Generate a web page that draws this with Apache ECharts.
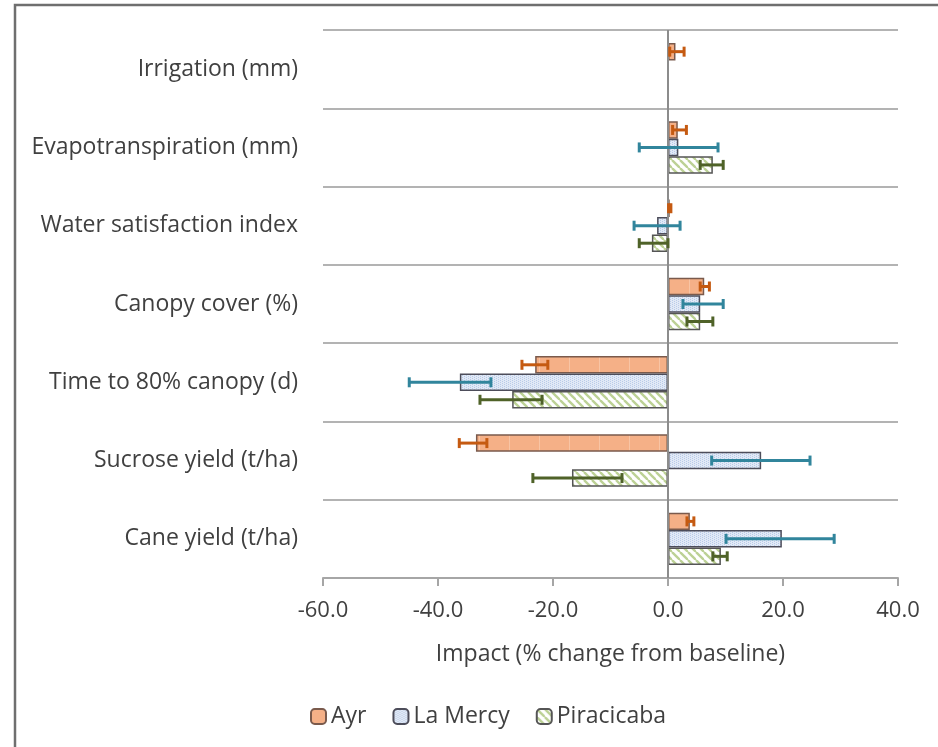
<!DOCTYPE html>
<html><head><meta charset="utf-8">
<script src="https://cdn.jsdelivr.net/npm/echarts@6/dist/echarts.min.js"></script>
<style>html,body{margin:0;padding:0;background:#fff}#c{width:938px;height:747px}</style>
</head><body><div id="c"></div>
<script>
const categories = ['Irrigation (mm)', 'Evapotranspiration (mm)', 'Water satisfaction index', 'Canopy cover (%)', 'Time to 80% canopy (d)', 'Sucrose yield (t/ha)', 'Cane yield (t/ha)'];
const xTicks = [-60, -40, -20, 0, 20, 40];
const ayr = [1.3, 1.7, 0.3, 6.3, -23.1, -33.4, 3.8];
const ayrLow = [0.3, 0.8, 0.1, 5.6, -25.4, -36.3, 3.3];
const ayrHigh = [2.8, 3.2, 0.5, 7.2, -20.9, -31.5, 4.5];
const laMercy = [null, 1.8, -1.9, 5.6, -36.2, 16.2, 19.8];
const laMercyLow = [null, -5.0, -5.9, 2.6, -45.0, 7.6, 10.1];
const laMercyHigh = [null, 8.7, 2.1, 9.6, -30.8, 24.7, 28.9];
const pira = [null, 7.8, -2.8, 5.6, -27.1, -16.7, 9.2];
const piraLow = [null, 5.6, -5.0, 3.3, -32.7, -23.5, 7.8];
const piraHigh = [null, 9.6, 0.0, 7.8, -21.9, -8.0, 10.3];

function makePattern(w, h, draw) {
  const c = document.createElement('canvas'); c.width = w; c.height = h;
  const g = c.getContext('2d'); draw(g, w, h); return c;
}
const ayrPat = makePattern(30, 4, (g, w, h) => { g.fillStyle = '#f5b087'; g.fillRect(0, 0, w, h); g.fillStyle = '#f8c4a4'; g.fillRect(29, 0, 1, h); });
const lmPat = makePattern(4, 4, (g, w, h) => { g.fillStyle = '#e1e9f6'; g.fillRect(0, 0, w, h); g.fillStyle = '#b9cbe9'; g.fillRect(0, 0, 1, 1); g.fillRect(0, 2, 1, 1); g.fillRect(2,1,1,1); g.fillRect(2,3,1,1);});
const piPat = makePattern(8, 8, (g, w, h) => {
  g.fillStyle = '#ffffff'; g.fillRect(0, 0, w, h);
  g.strokeStyle = '#bcd195'; g.lineWidth = 2.4;
  for (let k = -8; k <= 16; k += 8) { g.beginPath(); g.moveTo(k, 0); g.lineTo(k + 8, 8); g.stroke(); }
});

const GAP = 0.33;
function errSeries(name, low, high, idx, color) {
  const data = [];
  low.forEach((v, i) => { if (v !== null) data.push([v, high[i], i]); });
  return {
    type: 'custom', name: name + ' err', data: data, z: 5, silent: true,
    encode: { x: [0, 1], y: 2 },
    renderItem: function (params, api) {
      const cat = api.value(2);
      const p1 = api.coord([api.value(0), cat]);
      const p2 = api.coord([api.value(1), cat]);
      const band = Math.abs(api.size([0, 1])[1]);
      const bw = band * (1 - GAP) / 3;
      const y = p1[1] + (idx - 1) * bw;
      const cap = 5;
      const st = { stroke: color, lineWidth: 3 };
      return { type: 'group', children: [
        { type: 'line', shape: { x1: p1[0], y1: y, x2: p2[0], y2: y }, style: st },
        { type: 'line', shape: { x1: p1[0], y1: y - cap, x2: p1[0], y2: y + cap }, style: st },
        { type: 'line', shape: { x1: p2[0], y1: y - cap, x2: p2[0], y2: y + cap }, style: st }
      ]};
    }
  };
}

const font = 'Open Sans';
const chart = echarts.init(document.getElementById('c'));
chart.setOption({
  animation: false,
  backgroundColor: '#fff',
  textStyle: { fontFamily: font },
  graphic: [{ type: 'rect', shape: { x: 15, y: 5, width: 1000, height: 900 }, style: { fill: 'none', stroke: '#6f6f6f', lineWidth: 2.5 }, silent: true }],
  grid: { left: 323, right: 40, top: 30, bottom: 169 },
  legend: {
    left: 305, top: 700, itemWidth: 15, itemHeight: 15, itemGap: 26,
    data: ['Ayr', 'La Mercy', 'Piracicaba'],
    textStyle: { fontFamily: font, fontSize: 23, color: '#404040' }
  },
  xAxis: {
    type: 'value', min: -60, max: 40, interval: 20,
    axisLine: { show: true, lineStyle: { color: '#a6a6a6', width: 2 } },
    axisTick: { show: true, length: 8, lineStyle: { color: '#a6a6a6', width: 2 } },
    splitLine: { show: false },
    axisLabel: { margin: 22, fontSize: 22, color: '#404040', fontFamily: font, formatter: v => xTicks.includes(v) ? v.toFixed(1) : '' },
    name: 'Impact (% change from baseline)', nameLocation: 'middle', nameGap: 65,
    nameTextStyle: { fontSize: 23, color: '#404040', fontFamily: font }
  },
  yAxis: {
    type: 'category', data: categories, inverse: true,
    axisLine: { show: false }, axisTick: { show: false },
    splitLine: { show: true, lineStyle: { color: '#b3b3b3', width: 2 } },
    axisLabel: { margin: 25, fontSize: 23, color: '#404040', fontFamily: font }
  },
  series: [
    { type: 'bar', name: 'Ayr', data: ayr, barCategoryGap: '33%', barGap: '0%',
      itemStyle: { color: { image: ayrPat, repeat: 'repeat' }, borderColor: '#7a5a4c', borderWidth: 1.5 },
      markLine: { silent: true, symbol: 'none', label: { show: false }, lineStyle: { color: '#8c8c8c', width: 2, type: 'solid' }, data: [{ xAxis: 0 }] } },
    { type: 'bar', name: 'La Mercy', data: laMercy, barGap: '0%',
      itemStyle: { color: { image: lmPat, repeat: 'repeat' }, borderColor: '#4d4d5a', borderWidth: 1.5 } },
    { type: 'bar', name: 'Piracicaba', data: pira, barGap: '0%',
      itemStyle: { color: { image: piPat, repeat: 'repeat' }, borderColor: '#555555', borderWidth: 1.5 } },
    errSeries('Ayr', ayrLow, ayrHigh, 0, '#c55a11'),
    errSeries('La Mercy', laMercyLow, laMercyHigh, 1, '#31859c'),
    errSeries('Piracicaba', piraLow, piraHigh, 2, '#4f6228')
  ]
});
</script></body></html>
